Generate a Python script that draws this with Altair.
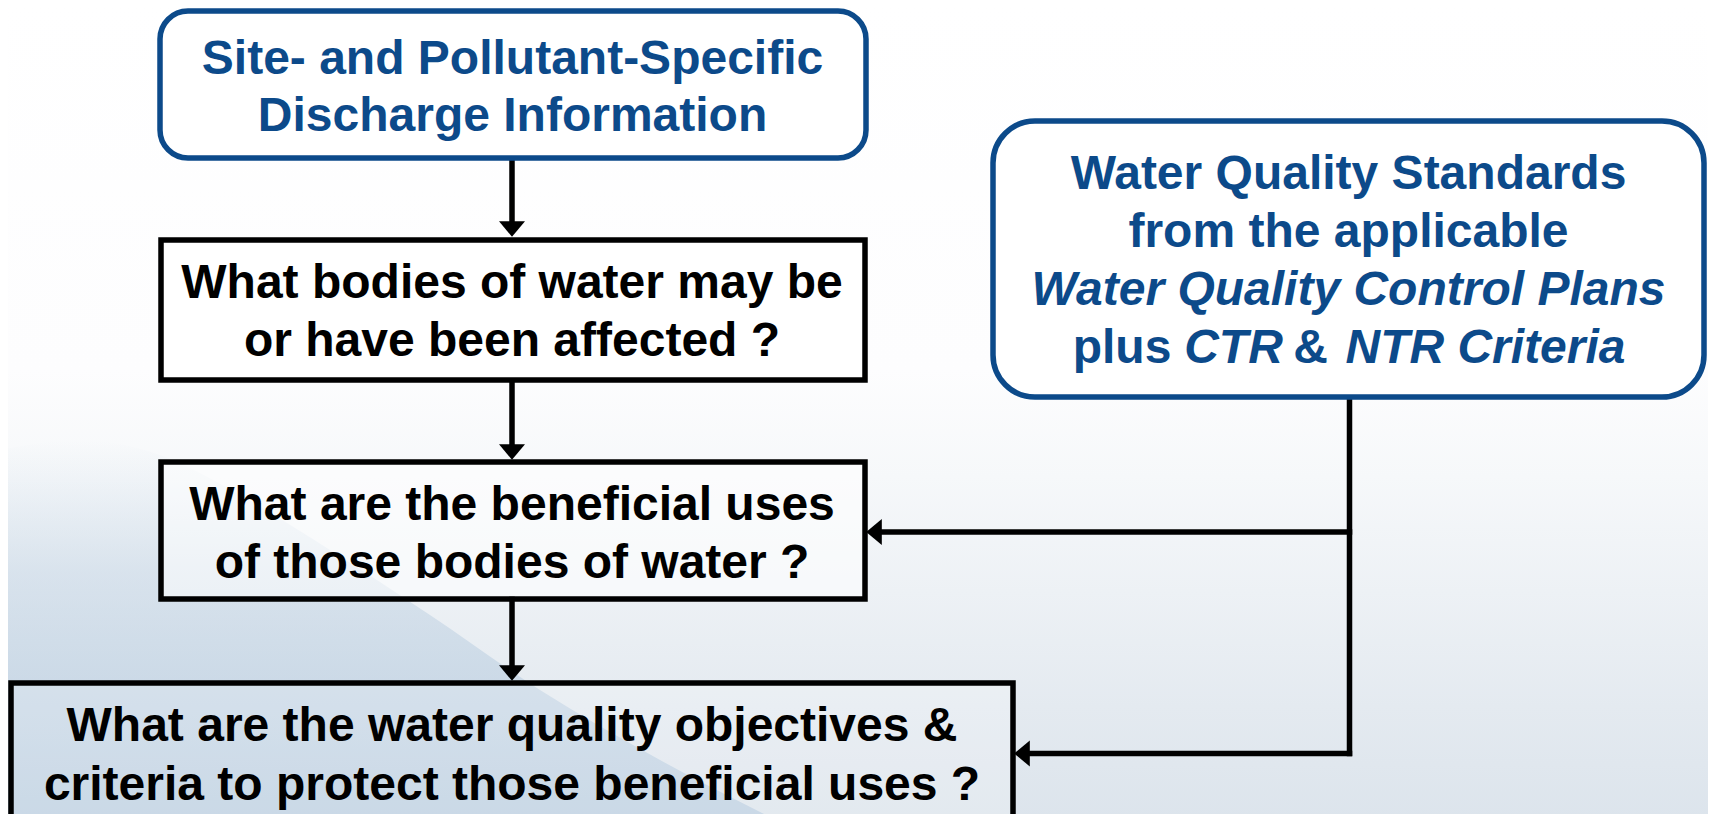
import altair as alt
import pandas as pd

# ---------------- data ----------------
# boxes (reference pixel coordinates, stroke centres)
box_names = ["source", "bodies", "uses", "objectives", "standards"]
box_x1 = [160, 161, 161, 11, 993]
box_x2 = [866, 865, 865, 1013, 1704]
box_y1 = [11, 240, 462, 683, 121]
box_y2 = [158, 380, 599, 820, 397]
box_fill_opacity = [1.0, 1.0, 0.55, 0.2, 1.0]

# connector segments
seg_x1 = [512, 512, 512, 1349.5, 1349.5, 1349.5]
seg_y1 = [158, 380, 599, 397, 532, 753.5]
seg_x2 = [512, 512, 512, 1349.5, 878, 1026]
seg_y2 = [223, 446, 667, 753.5, 532, 753.5]

# arrow heads
down_x = [512, 512, 512]
down_y = [229, 452, 673]
left_x = [874, 1022]
left_y = [532, 753.5]

# texts
blue_text = ["Site- and Pollutant-Specific", "Discharge Information",
             "Water Quality Standards", "from the applicable", "plus", "&"]
blue_x = [512.5, 512.5, 1348.5, 1348.5, 1122, 1310.5]
blue_y = [74, 131, 189, 247, 363, 363]

blue_italic_text = ["Water Quality Control Plans", "CTR", "NTR Criteria"]
blue_italic_x = [1348.5, 1233.5, 1485.5]
blue_italic_y = [305, 363, 363]

black_text = ["What bodies of water may be", "or have been affected ?",
              "What are the beneficial uses", "of those bodies of water ?",
              "What are the water quality objectives &",
              "criteria to protect those beneficial uses ?"]
black_x = [512, 512, 512, 512, 512, 512]
black_y = [298, 356, 520, 578, 741, 800]

# background wave (top boundary of the blue swoosh, lower left)
wave_x = [0, 80, 160, 240, 330, 430, 540, 660, 780]
wave_y = [450, 440, 455, 495, 550, 615, 690, 760, 822]

# ---------------- frames ----------------
boxes = pd.DataFrame(dict(name=box_names, x1=box_x1, x2=box_x2, y1=box_y1,
                          y2=box_y2, fo=box_fill_opacity))
segs = pd.DataFrame(dict(x1=seg_x1, y1=seg_y1, x2=seg_x2, y2=seg_y2))
downs = pd.DataFrame(dict(x=down_x, y=down_y))
lefts = pd.DataFrame(dict(x=left_x, y=left_y))
tb = pd.DataFrame(dict(t=blue_text, x=blue_x, y=blue_y))
tbi = pd.DataFrame(dict(t=blue_italic_text, x=blue_italic_x, y=blue_italic_y))
tk = pd.DataFrame(dict(t=black_text, x=black_x, y=black_y))
wave = pd.DataFrame(dict(x=wave_x, y=wave_y, y2=[822] * len(wave_x)))
bg = pd.DataFrame(dict(x1=[0], x2=[1716], y1=[0], y2=[822]))

W, H = 1700, 806
xs = alt.Scale(domain=[8, 1708], nice=False, zero=False)
ys = alt.Scale(domain=[8, 814], reverse=True, nice=False, zero=False)
X = lambda f: alt.X(f, type="quantitative", scale=xs, axis=None)
Y = lambda f: alt.Y(f, type="quantitative", scale=ys, axis=None)

BLUE = "#0c4a8a"
FONT = "Liberation Sans, Arial, sans-serif"

background = alt.Chart(bg).mark_rect(
    clip=False,
    color=alt.Gradient(
        gradient="linear", x1=0, y1=0, x2=0, y2=1,
        stops=[alt.GradientStop(offset=0, color="#ffffff"),
               alt.GradientStop(offset=0.45, color="#fdfdfe"),
               alt.GradientStop(offset=0.58, color="#f6f8fa"),
               alt.GradientStop(offset=0.72, color="#edf1f5"),
               alt.GradientStop(offset=0.86, color="#e4eaf0"),
               alt.GradientStop(offset=1, color="#dce4ec")])
).encode(x=X("x1"), x2="x2", y=Y("y1"), y2="y2")

wave_layer = alt.Chart(wave).mark_area(
    clip=False, interpolate="monotone",
    color=alt.Gradient(
        gradient="linear", x1=0, y1=0, x2=0, y2=1,
        stops=[alt.GradientStop(offset=0, color="rgba(205,220,233,0)"),
               alt.GradientStop(offset=0.35, color="rgba(198,214,229,0.55)"),
               alt.GradientStop(offset=1, color="rgba(185,205,224,0.9)")])
).encode(x=X("x"), y=Y("y"), y2="y2")

rounded_src = alt.Chart(boxes[boxes.name == "source"]).mark_rect(
    clip=False, fill="white", stroke=BLUE, strokeWidth=5.5, cornerRadius=28
).encode(x=X("x1"), x2="x2", y=Y("y1"), y2="y2")

rounded_std = alt.Chart(boxes[boxes.name == "standards"]).mark_rect(
    clip=False, fill="white", stroke=BLUE, strokeWidth=5.5, cornerRadius=42
).encode(x=X("x1"), x2="x2", y=Y("y1"), y2="y2")

square_boxes = alt.Chart(boxes[boxes.name.isin(["bodies", "uses", "objectives"])]).mark_rect(
    clip=False, fill="white", stroke="black", strokeWidth=5.5
).encode(x=X("x1"), x2="x2", y=Y("y1"), y2="y2",
         fillOpacity=alt.FillOpacity("fo:Q", scale=None))

lines = alt.Chart(segs).mark_rule(
    clip=False, color="black", strokeWidth=5.5, strokeCap="square"
).encode(x=X("x1"), x2="x2", y=Y("y1"), y2="y2")

down_heads = alt.Chart(downs).mark_point(
    clip=False, shape="M-1,-0.6L1,-0.6L0,0.6Z", size=676, filled=True,
    color="black", opacity=1, strokeWidth=0
).encode(x=X("x"), y=Y("y"))

left_heads = alt.Chart(lefts).mark_point(
    clip=False, shape="M0.6,-1L0.6,1L-0.6,0Z", size=676, filled=True,
    color="black", opacity=1, strokeWidth=0
).encode(x=X("x"), y=Y("y"))

txt_blue = alt.Chart(tb).mark_text(
    clip=False, font=FONT, fontSize=48, fontWeight="bold", color=BLUE,
    align="center", baseline="alphabetic"
).encode(x=X("x"), y=Y("y"), text="t:N")

txt_blue_i = alt.Chart(tbi).mark_text(
    clip=False, font=FONT, fontSize=48, fontWeight="bold", fontStyle="italic",
    color=BLUE, align="center", baseline="alphabetic"
).encode(x=X("x"), y=Y("y"), text="t:N")

txt_black = alt.Chart(tk).mark_text(
    clip=False, font=FONT, fontSize=48, fontWeight="bold", color="black",
    align="center", baseline="alphabetic"
).encode(x=X("x"), y=Y("y"), text="t:N")

chart = alt.layer(
    background, wave_layer, lines, rounded_src, rounded_std, square_boxes,
    down_heads, left_heads, txt_blue, txt_blue_i, txt_black
).properties(
    width=W, height=H, padding=0, autosize=alt.AutoSizeParams(type="none"),
    background="white"
).configure_view(stroke=None)

chart.save("out.html", embed_options={"renderer": "svg", "actions": False})
